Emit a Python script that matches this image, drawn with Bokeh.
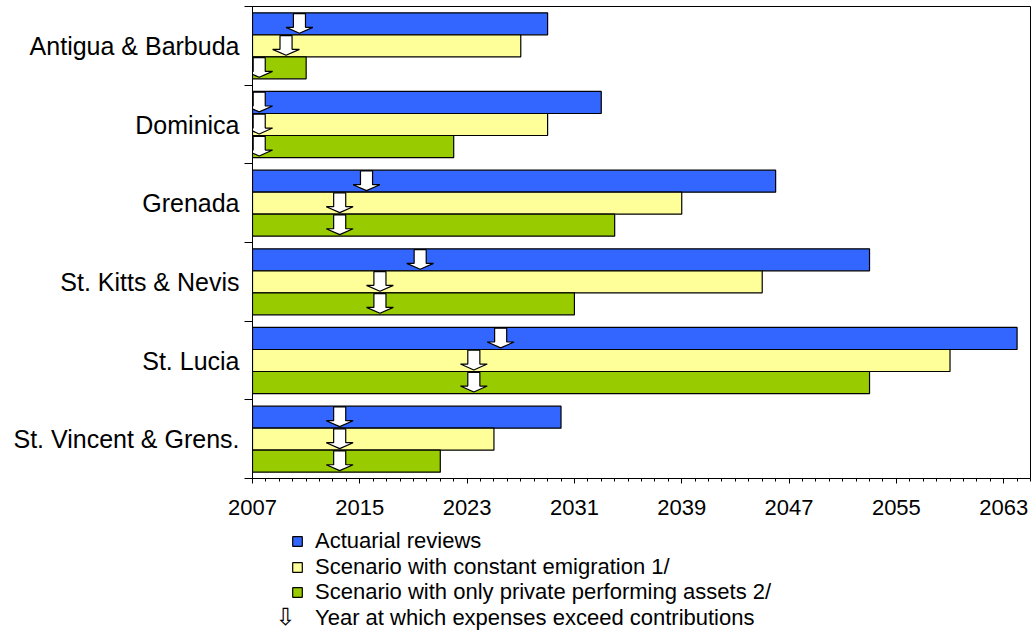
from bokeh.plotting import figure
from bokeh.layouts import column
from bokeh.models import Range1d, FixedTicker, Legend, LegendItem, Label
from bokeh.embed import file_html
from bokeh.resources import INLINE

# ---------------- data ----------------
countries = ["Antigua & Barbuda", "Dominica", "Grenada",
             "St. Kitts & Nevis", "St. Lucia", "St. Vincent & Grens."]
series_names = ["Actuarial reviews",
                "Scenario with constant emigration 1/",
                "Scenario with only private performing assets 2/"]
arrow_label = "Year at which expenses exceed contributions"

start_year = 2007
# year at which reserves are exhausted (bar end)
actuarial_end = [2029, 2033, 2046, 2053, 2064, 2030]
emigration_end = [2027, 2029, 2039, 2045, 2059, 2025]
private_assets_end = [2011, 2022, 2034, 2031, 2053, 2021]
# year at which expenses exceed contributions (arrows)
actuarial_cross = [2010, 2007, 2015, 2019, 2025, 2013]
emigration_cross = [2009, 2007, 2013, 2016, 2023, 2013]
private_assets_cross = [2007, 2007, 2013, 2016, 2023, 2013]

x_ticks = [2007, 2015, 2023, 2031, 2039, 2047, 2055, 2063]
x_min, x_max = 2007, 2065

# ---------------- style ----------------
colors = ["#3366FF", "#FFFF99", "#99CC00"]
FONT = "Liberation Sans"
BAR_H = 0.28
OFFSETS = [-0.28, 0.0, 0.28]
SHAFT_HALF = 0.45      # years
HEAD_HALF = 1.0        # years
ARROW_H = 0.25         # category units
SHAFT_FRAC = 0.70
W = 1034
H_TOP = 527
H_LEG = 105
NAN = float("nan")
LEG_X = 39                                 # legend offset from the frame's left edge
LEG_ROW_CENTERS = [13.5, 39, 64.5, 90.5]   # from the top of the legend panel
LEG_ROW_H = 27

p = figure(width=W, height=H_TOP, output_backend="svg", toolbar_location=None,
           x_range=Range1d(x_min, x_max), y_range=Range1d(len(countries), 0),
           min_border_left=252, min_border_right=4, min_border_top=6,
           min_border_bottom=49)

ends = [actuarial_end, emigration_end, private_assets_end]
crosses = [actuarial_cross, emigration_cross, private_assets_cross]

for k in range(3):
    ys = [i + 0.5 + OFFSETS[k] for i in range(len(countries))]
    p.hbar(y=ys, left=start_year, right=ends[k], height=BAR_H,
           fill_color=colors[k], line_color="black", line_width=1.2)

# arrows
axs, ays = [], []
for k in range(3):
    for i in range(len(countries)):
        xc = crosses[k][i] + 0.5
        ytop = i + 0.5 + OFFSETS[k] - BAR_H / 2 + 0.01
        ys_ = ytop + ARROW_H * SHAFT_FRAC
        axs.append([xc - SHAFT_HALF, xc + SHAFT_HALF, xc + SHAFT_HALF, xc + HEAD_HALF,
                    xc, xc - HEAD_HALF, xc - SHAFT_HALF])
        ays.append([ytop, ytop, ys_, ys_, ytop + ARROW_H, ys_, ys_])
p.patches(axs, ays, fill_color="white", line_color="black", line_width=1.2)

# axes
p.grid.visible = False
p.outline_line_color = "black"
p.outline_line_width = 1

xa = p.xaxis[0]
xa.ticker = FixedTicker(ticks=x_ticks, minor_ticks=list(range(x_min, x_max + 1)))
xa.axis_line_color = "black"
xa.major_tick_line_color = "black"
xa.minor_tick_line_color = "black"
xa.major_tick_out = 5
xa.major_tick_in = 0
xa.minor_tick_out = 3
xa.minor_tick_in = 0
xa.major_label_standoff = 16
xa.major_label_text_font = FONT
xa.major_label_text_font_size = "22px"
xa.major_label_text_color = "black"

ya = p.yaxis[0]
ya.ticker = FixedTicker(ticks=[i + 0.5 for i in range(len(countries))],
                        minor_ticks=list(range(len(countries) + 1)))
ya.major_label_overrides = {i + 0.5: c for i, c in enumerate(countries)}
ya.axis_line_color = "black"
ya.major_tick_out = 0
ya.major_tick_in = 0
ya.minor_tick_out = 8
ya.minor_tick_in = 0
ya.minor_tick_line_color = "black"
ya.major_label_standoff = 5
ya.major_label_text_font = FONT
ya.major_label_text_font_size = "25px"
ya.major_label_text_color = "black"

# ---------------- legend panel (frame aligned with the chart frame) ----------------
q = figure(width=W, height=H_LEG, output_backend="svg", toolbar_location=None,
           x_range=Range1d(0, 1), y_range=Range1d(0, 1),
           x_axis_type=None, y_axis_type=None,
           min_border_left=0, min_border_right=0, min_border_top=0, min_border_bottom=0)
q.grid.visible = False
q.outline_line_color = None

keys = [q.hbar(y=[NAN], right=[NAN], height=BAR_H, fill_color=colors[k],
               line_color="black", line_width=1.2) for k in range(3)]
dummy = q.scatter(x=[NAN], y=[NAN], size=0, fill_alpha=0, line_alpha=0)

labels = series_names + [arrow_label]
renderers = keys + [dummy]
for row, (lab, rend) in enumerate(zip(labels, renderers)):
    vy = H_LEG - LEG_ROW_CENTERS[row] - LEG_ROW_H / 2
    lg = Legend(items=[LegendItem(label=lab, renderers=[rend])],
                location=(LEG_X, vy), padding=0, margin=0, spacing=0,
                glyph_width=12, glyph_height=12, label_standoff=12,
                label_text_font=FONT, label_text_font_size="22px",
                label_text_color="black",
                border_line_color=None, background_fill_alpha=0)
    q.add_layout(lg)

q.add_layout(Label(x=33, y=H_LEG - (LEG_ROW_CENTERS[3] - 1), x_units="screen", y_units="screen",
                   text="⇩", text_font="DejaVu Sans", text_font_size="24px",
                   text_align="center", text_baseline="middle", text_color="black"))

layout = column(p, q, spacing=0)
open("out.html", "w").write(file_html(layout, INLINE))
